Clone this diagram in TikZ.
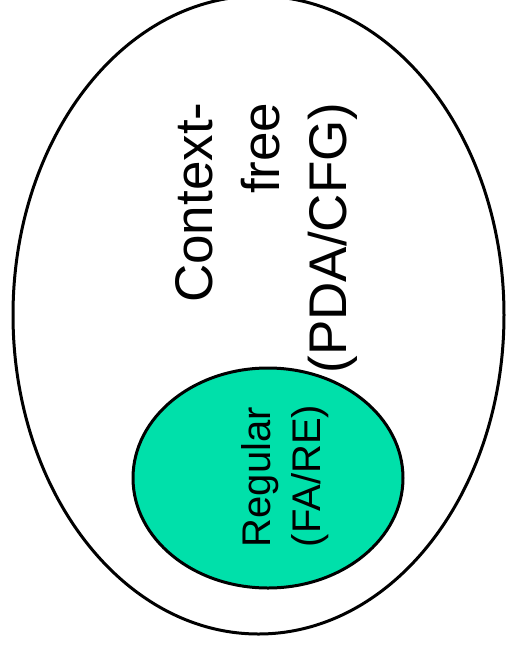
\documentclass[tikz,border=0pt]{standalone}
\usepackage{fontspec}
\setmainfont{Liberation Sans}
\definecolor{regulargreen}{RGB}{0,224,170}
\tikzset{
  langtext/.style={rotate=90, inner sep=0pt},
  setline/.style={line width=3pt}
}
\begin{document}
\begin{tikzpicture}[x=1pt, y=-1pt]
\useasboundingbox (0,0) rectangle (506,649);
\draw[setline, fill=white] (258.5,315) ellipse [x radius=245.5, y radius=319];
\draw[setline, fill=regulargreen] (268,478) ellipse [x radius=135, y radius=110];
\node[langtext, align=right, font=\fontsize{53}{67}\selectfont] (cfl) at (266,238) {Context-\\free\\(PDA/CFG)};
\node[langtext, align=left, font=\fontsize{40}{50}\selectfont] (reg) at (285,476) {Regular\\(FA/RE)};
\end{tikzpicture}
\end{document}
